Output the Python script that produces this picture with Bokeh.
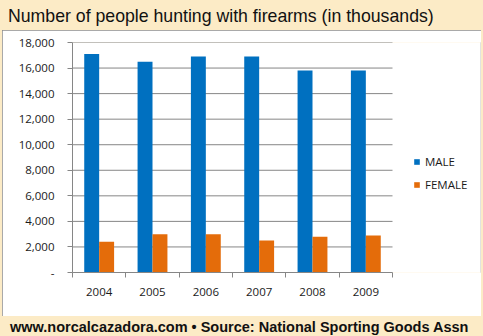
from bokeh.plotting import figure
from bokeh.layouts import column
from bokeh.models import (Legend, LegendItem, FixedTicker, NumeralTickFormatter,
                          ColumnDataSource, Range1d, Div)
from bokeh.transform import dodge
from bokeh.embed import file_html
from bokeh.resources import INLINE

# Hunters using firearms, in thousands, by year and sex
years = [2004, 2005, 2006, 2007, 2008, 2009]
year_labels = ["2004", "2005", "2006", "2007", "2008", "2009"]
male = [17100, 16500, 16900, 16900, 15800, 15800]
female = [2400, 3000, 3000, 2500, 2800, 2900]
y_ticks = [0, 2000, 4000, 6000, 8000, 10000, 12000, 14000, 16000, 18000]

title_text = "Number of people hunting with firearms (in thousands)"
footer_text = "www.norcalcazadora.com \u2022 Source: National Sporting Goods Assn"

BLUE = "#0070C0"
ORANGE = "#E46C0A"
GRID = "#868686"
BEIGE = "#FCEBC6"
TEXT = "#1a1a1a"
FONT = "Open Sans"

x_lo, x_hi = years[0] - 0.5, years[-1] + 0.5
# the frame runs on to the right edge of the panel so the legend sits inside it
x_view_end = x_lo + 408 / 320 * (x_hi - x_lo)

src = ColumnDataSource(dict(year=years, male=male, female=female))
grid_src = ColumnDataSource(dict(y=y_ticks[1:]))

p = figure(width=479, height=286, output_backend="svg", toolbar_location=None,
           x_range=Range1d(x_lo, x_view_end), y_range=Range1d(0, 18000),
           min_border_left=70, min_border_right=1, min_border_top=12,
           min_border_bottom=44)
p.title = None
p.border_fill_color = "white"
p.background_fill_color = "white"
p.outline_line_color = None
p.margin = (0, 2, 0, 2)
p.styles = {"outline": "1px solid #8c8c8c", "outline-offset": "-1px"}

# horizontal gridlines limited to the category span
p.segment(x0=x_lo, x1=x_hi, y0="y", y1="y", source=grid_src,
          line_color=GRID, line_width=1, level="underlay")

bw = 0.28
r_m = p.vbar(x=dodge("year", -bw / 2), top="male", width=bw, source=src,
             fill_color=BLUE, line_color=None)
r_f = p.vbar(x=dodge("year", bw / 2), top="female", width=bw, source=src,
             fill_color=ORANGE, line_color=None)

# x axis: year labels centred, tick marks between the years
xa = p.xaxis[0]
xa.bounds = (x_lo, x_hi)
xa.ticker = FixedTicker(ticks=years,
                        minor_ticks=[y - 0.5 for y in years] + [x_hi])
xa.major_label_overrides = {y: s for y, s in zip(years, year_labels)}
xa.major_tick_out = 0
xa.major_tick_in = 0
xa.minor_tick_out = 5
xa.minor_tick_in = 0
xa.minor_tick_line_color = GRID
xa.axis_line_color = GRID
xa.major_label_standoff = 10
xa.major_label_text_font = FONT
xa.major_label_text_font_size = "11.5px"
xa.major_label_text_color = TEXT

ya = p.yaxis[0]
ya.ticker = FixedTicker(ticks=y_ticks)
ya.formatter = NumeralTickFormatter(format="0,0")
ya.major_label_overrides = {0: "-"}
ya.major_tick_out = 5
ya.major_tick_in = 0
ya.minor_tick_line_color = None
ya.major_tick_line_color = GRID
ya.axis_line_color = GRID
ya.major_label_standoff = 13
ya.major_label_text_font = FONT
ya.major_label_text_font_size = "11.5px"
ya.major_label_text_color = TEXT

p.xgrid.grid_line_color = None
p.ygrid.grid_line_color = None

legend = Legend(items=[LegendItem(label="MALE", renderers=[r_m]),
                       LegendItem(label="FEMALE", renderers=[r_f])],
                location=(341, 80), padding=0, margin=0, spacing=8,
                border_line_color=None, background_fill_alpha=0,
                glyph_width=7, glyph_height=7, label_standoff=5, label_height=14,
                label_text_font=FONT, label_text_font_size="11.5px",
                label_text_color=TEXT)
p.add_layout(legend)

title_div = Div(
    text=f'<div style="font-family: \'Liberation Sans\'; font-size: 17.7px; '
         f'line-height: 20px; padding: 6px 0 0 8px; color: #111111; '
         f'white-space: nowrap;">{title_text}</div>',
    width=483, height=30, margin=0)
footer_div = Div(
    text=f'<div style="font-family: \'Liberation Sans\'; font-weight: bold; '
         f'font-size: 14.5px; line-height: 16px; padding: 3px 0 0 10px; '
         f'color: #111111; white-space: nowrap;">{footer_text}</div>',
    width=483, height=20, margin=0)

page = column(title_div, p, footer_div, spacing=0, margin=0,
              styles={"background-color": BEIGE})

open("out.html", "w").write(file_html(page, INLINE))
